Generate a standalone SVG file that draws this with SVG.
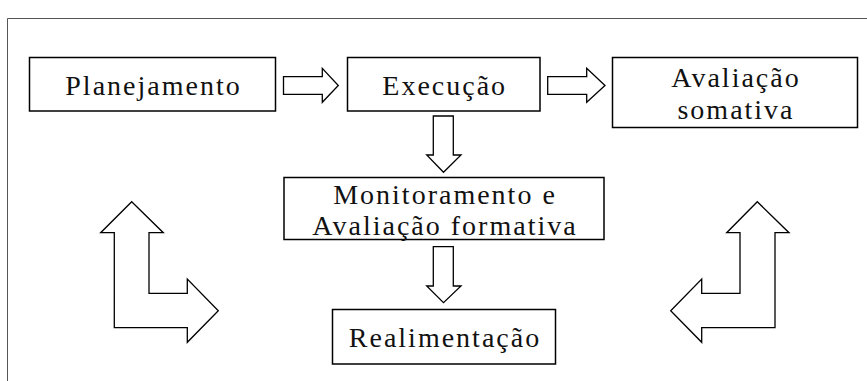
<svg xmlns="http://www.w3.org/2000/svg" width="867" height="381" viewBox="0 0 867 381">
<style>
.box{fill:#fff;stroke:#000;stroke-width:1.5}
.arr{fill:#fff;stroke:#000;stroke-width:1.3;stroke-linejoin:miter}
text{font-family:"Liberation Serif","Times New Roman",serif;font-size:28px;letter-spacing:2px;fill:#111;text-anchor:middle}
</style>
<rect x="0" y="0" width="867" height="381" fill="#fff"/>
<path d="M7.5,381 V18.5 H867" fill="none" stroke="#555" stroke-width="1"/>
<g id="planejamento"><rect class="box" x="29.5" y="57.5" width="246" height="53.5"/><text x="153.5" y="94.5">Planejamento</text></g>
<g id="execucao"><rect class="box" x="347.5" y="57.5" width="192.5" height="53.5"/><text x="444.7" y="94.5">Execução</text></g>
<g id="avaliacao-somativa"><rect class="box" x="612.5" y="57.5" width="245" height="70"/><text x="736" y="86.5">Avaliação</text><text x="736" y="118.5">somativa</text></g>
<g id="monitoramento"><rect class="box" x="284" y="177.5" width="320" height="62"/><text x="445" y="203.5">Monitoramento e</text><text x="445" y="235">Avaliação formativa</text></g>
<g id="realimentacao"><rect class="box" x="332.5" y="309.5" width="223" height="54.5"/><text x="445" y="346.5">Realimentação</text></g>
<g id="connectors">
<polygon class="arr" points="283.5,76.7 322.3,76.7 322.3,68.3 338.3,85.5 322.3,102.3 322.3,94.3 283.5,94.3"/>
<polygon class="arr" points="547.7,76.7 586.7,76.7 586.7,68.3 605,85.5 586.7,102.3 586.7,94.3 547.7,94.3"/>
<polygon class="arr" points="433.3,116 453.3,116 453.3,155 461,155 443.5,172.3 426.7,155 433.3,155"/>
<polygon class="arr" points="433.3,246.7 453.3,246.7 453.3,286 461,286 443.5,302.7 426.7,286 433.3,286"/>
<polygon class="arr" points="131.7,201.7 163.3,232.7 149,232.7 149,293.3 187.3,293.3 187.3,279 218.3,310.7 187.3,342.3 187.3,327.7 114.3,327.7 114.3,232.7 100.7,232.7"/>
<polygon class="arr" points="757.3,201.7 789,232.7 775,232.7 775,327.7 701.7,327.7 701.7,342.3 670.7,310.7 701.7,279 701.7,293.3 740,293.3 740,232.7 726.7,232.7"/>
</g>
</svg>
